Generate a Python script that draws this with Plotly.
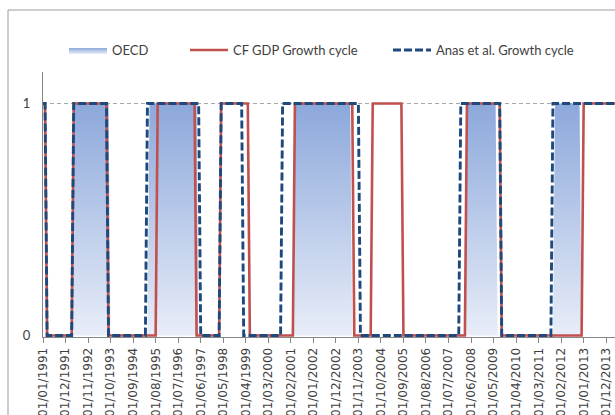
import plotly.graph_objects as go

# ---- data -------------------------------------------------------------
tick_labels = ["01/01/1991", "01/12/1991", "01/11/1992", "01/10/1993", "01/09/1994",
               "01/08/1995", "01/07/1996", "01/06/1997", "01/05/1998", "01/04/1999",
               "01/03/2000", "01/02/2001", "01/01/2002", "01/12/2002", "01/11/2003",
               "01/10/2004", "01/09/2005", "01/08/2006", "01/07/2007", "01/06/2008",
               "01/05/2009", "01/04/2010", "01/03/2011", "01/02/2012", "01/01/2013",
               "01/12/2013"]

months = [f"01/{m:02d}/{y}" for y in range(1991, 2015) for m in range(1, 13)][:282]

oecd = ([0] * 15 + [1] * 18 + [0] * 19 + [1] * 24 + [0] * 47 + [1] * 28 +
        [0] * 56 + [1] * 15 + [0] * 28 + [1] * 13 + [0] * 19)
cf_gdp = ([1] * 2 + [0] * 13 + [1] * 17 + [0] * 24 + [1] * 19 + [0] * 12 + [1] * 14 +
          [0] * 22 + [1] * 29 + [0] * 9 + [1] * 15 + [0] * 31 + [1] * 17 + [0] * 40 +
          [1] * 18)
anas = ([1] * 2 + [0] * 13 + [1] * 17 + [0] * 19 + [1] * 26 + [0] * 10 + [1] * 11 +
        [0] * 19 + [1] * 38 + [0] * 49 + [1] * 20 + [0] * 25 + [1] * 33)

# ---- figure -----------------------------------------------------------
W, H = 615, 415
L, R, T, B = 43, 0, 72, 78
pw, ph = W - L - R, H - T - B

fig = go.Figure()
fig.add_trace(go.Scatter(
    x=months, y=oecd, name="OECD", mode="lines",
    line=dict(width=0, color="rgba(141,169,219,0)"),
    fill="tozeroy",
    fillgradient=dict(type="vertical",
                      colorscale=[[0, "#E8EDF8"], [1, "#8CA8DB"]]),
    legend="legend", hoverinfo="skip"))
fig.add_trace(go.Scatter(
    x=months, y=cf_gdp, name="CF GDP Growth cycle", mode="lines",
    line=dict(color="#C0504D", width=2.6), legend="legend2"))
fig.add_trace(go.Scatter(
    x=months, y=anas, name="Anas et al. Growth cycle", mode="lines",
    line=dict(color="#1F497D", width=2.9, dash="8px,3px"), legend="legend3"))

axis_font = dict(family="DejaVu Sans", size=12, color="#404040")
leg_font = dict(family="Lato", size=13, color="#404040")
leg_y = (H - B - 50) / ph


def leg(xpx):
    return dict(x=(xpx - L) / pw, y=leg_y, xanchor="left", yanchor="middle",
                orientation="h", font=leg_font, bgcolor="rgba(0,0,0,0)",
                itemwidth=38)


fig.update_layout(
    width=W, height=H,
    margin=dict(l=L, r=R, t=T, b=B, pad=0),
    paper_bgcolor="white", plot_bgcolor="white",
    showlegend=True,
    legend=leg(64),
    legend2=leg(185),
    legend3=leg(388),
    xaxis=dict(type="category", range=[0, pw / 2.048],
               tickmode="array", tickvals=tick_labels, ticktext=tick_labels,
               tickangle=-90, ticks="outside", ticklen=5, tickcolor="#868686",
               showline=True, linecolor="#868686", linewidth=1,
               showgrid=False, zeroline=False, tickfont=axis_font,
               automargin=False),
    yaxis=dict(range=[-0.0065, 1.136], tickmode="array", tickvals=[0, 1],
               ticktext=["0", "1"], ticks="", showgrid=False, zeroline=False,
               showline=True, linecolor="#868686", linewidth=1,
               ticklabelstandoff=9,
               tickfont=dict(family="Lato", size=13, color="#404040"),
               automargin=False),
    shapes=[
        dict(type="line", xref="paper", yref="y", x0=0, x1=1, y0=1, y1=1,
             line=dict(color="#A6A6A6", width=1, dash="4px,3px"), layer="below"),
        dict(type="rect", xref="paper", yref="paper",
             x0=(8 - L) / pw, x1=1.2, y0=-1, y1=(H - B - 10) / ph,
             line=dict(color="#9A9A9A", width=1), fillcolor="rgba(0,0,0,0)",
             layer="below"),
    ],
)

fig.write_html(
    "out.html",
    config={"displayModeBar": False},
    post_script="document.body.style.margin='0';document.body.style.padding='0';"
                "document.body.style.overflow='hidden';",
)
